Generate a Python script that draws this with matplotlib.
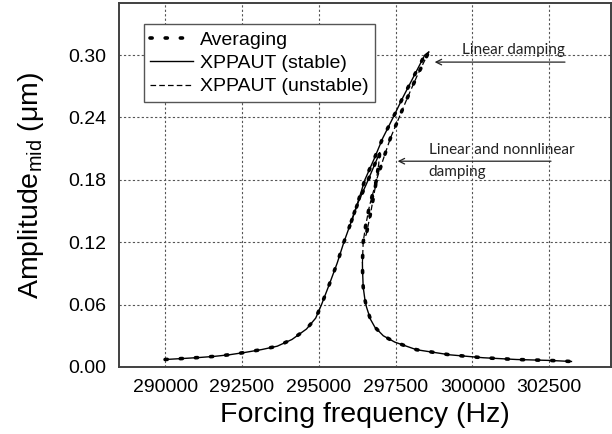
import numpy as np
import matplotlib
matplotlib.use("Agg")
from matplotlib import pyplot as plt

plt.rcParams['font.family'] = ['Liberation Sans', 'DejaVu Sans']
plt.rcParams['mathtext.fontset'] = 'custom'
plt.rcParams['mathtext.rm'] = 'Liberation Sans'

# linear damping - upper stable branch
lin_up_f = [290000, 290600, 291100, 291600, 292100, 292600, 293150, 293650, 294130,
            294600, 294900, 295090, 295350, 295600, 295817, 296060, 296290, 296500,
            296800, 297080, 297420, 297750, 298100, 298450, 298580]
lin_up_a = [0.0072, 0.0082, 0.0091, 0.0102, 0.0118, 0.0140, 0.0168, 0.0200, 0.0265,
            0.0365, 0.0470, 0.0600, 0.0800, 0.1000, 0.1200, 0.1400, 0.1600, 0.1800,
            0.2000, 0.2200, 0.2400, 0.2600, 0.2800, 0.3000, 0.3030]

# linear damping - unstable branch
lin_un_f = [298580, 298450, 298200, 297900, 297615, 297330, 297100, 296880, 296650,
            296520, 296445, 296420]
lin_un_a = [0.3030, 0.2950, 0.2800, 0.2600, 0.2400, 0.2200, 0.2000, 0.1800, 0.1550,
            0.1350, 0.1200, 0.1000]

# lower stable branch (both cases)
low_f = [296420, 296424, 296445, 296500, 296553, 296680, 296825, 297100, 297475,
         298181, 299264, 300348, 301433, 302516, 303221]
low_a = [0.1000, 0.0930, 0.0770, 0.0650, 0.0576, 0.0460, 0.0383, 0.0300, 0.0239,
         0.0166, 0.0117, 0.0089, 0.0072, 0.0063, 0.0053]

# linear + nonlinear damping near its peak
nl_up_f = [296060, 296290, 296550, 296780, 296980]
nl_up_a = [0.1400, 0.1590, 0.1760, 0.1920, 0.2060]
nl_un_f = [296980, 296950, 296850, 296700, 296550, 296445]
nl_un_a = [0.2060, 0.1950, 0.1750, 0.1500, 0.1280, 0.1200]

fig = plt.figure(figsize=(6.12, 4.34), dpi=100)
ax = fig.add_axes([0.1944, 0.1544, 0.8036, 0.8386])

dot = dict(color='black', lw=2.6, linestyle=(0, (0.6, 3.6)), dash_capstyle='round')
solid = dict(color='black', lw=1.0)
dash = dict(color='black', lw=0.9, linestyle=(0, (4.5, 2.5)))

# averaging (dotted) for both cases
avg_lin_f = lin_up_f + lin_un_f + low_f
avg_lin_a = lin_up_a + lin_un_a + low_a
ax.plot(avg_lin_f, avg_lin_a, label='Averaging', **dot)
ax.plot(nl_up_f + nl_un_f, nl_up_a + nl_un_a, **dot)

ax.plot(lin_up_f, lin_up_a, label='XPPAUT (stable)', **solid)
ax.plot(low_f, low_a, **solid)
ax.plot(nl_up_f, nl_up_a, **solid)
ax.plot(lin_un_f, lin_un_a, label='XPPAUT (unstable)', **dash)
ax.plot(nl_un_f, nl_un_a, **dash)

ax.set_xlim(288500, 304500)
ax.set_ylim(0, 0.35)
ax.set_xticks(np.arange(290000, 302501, 2500))
ax.set_yticks(np.arange(0, 0.301, 0.06))
ax.set_yticklabels(['%.2f' % v for v in np.arange(0, 0.301, 0.06)])
ax.tick_params(length=0, labelsize=14, pad=9)
ax.grid(True, color='#555555', lw=0.8, linestyle=(0, (2, 2)))
for s in ax.spines.values():
    s.set_color('#404040')
    s.set_linewidth(1.4)

ax.set_xlabel('Forcing frequency (Hz)', fontsize=20.5, labelpad=4)
ax.set_ylabel('Amplitude$_{\\mathrm{mid}}$ (\u03bcm)', fontsize=20.5, labelpad=16)

leg = ax.legend(loc='upper left', bbox_to_anchor=(0.05, 0.942), fontsize=14,
                frameon=True, fancybox=False, edgecolor='#555555', framealpha=1,
                handlelength=2.2, handletextpad=0.35, labelspacing=0.3,
                borderpad=0.35, borderaxespad=0)
leg.get_frame().set_linewidth(1.0)

afont = dict(family=['Lato', 'DejaVu Sans'], fontsize=11, color='#222222')
ax.text(299654, 0.3048, 'Linear damping', va='center', ha='left', **afont)
ax.annotate('', xy=(298680, 0.2932), xytext=(303100, 0.2932),
            arrowprops=dict(arrowstyle='->', color='#222222', lw=0.9))
ax.text(298581, 0.1984, 'Linear and nonnlinear\ndamping', va='center', ha='left',
        linespacing=1.75, **afont)
ax.annotate('', xy=(297476, 0.1979), xytext=(302646, 0.1979),
            arrowprops=dict(arrowstyle='->', color='#222222', lw=0.9))

fig.savefig('out.png', dpi=100)
